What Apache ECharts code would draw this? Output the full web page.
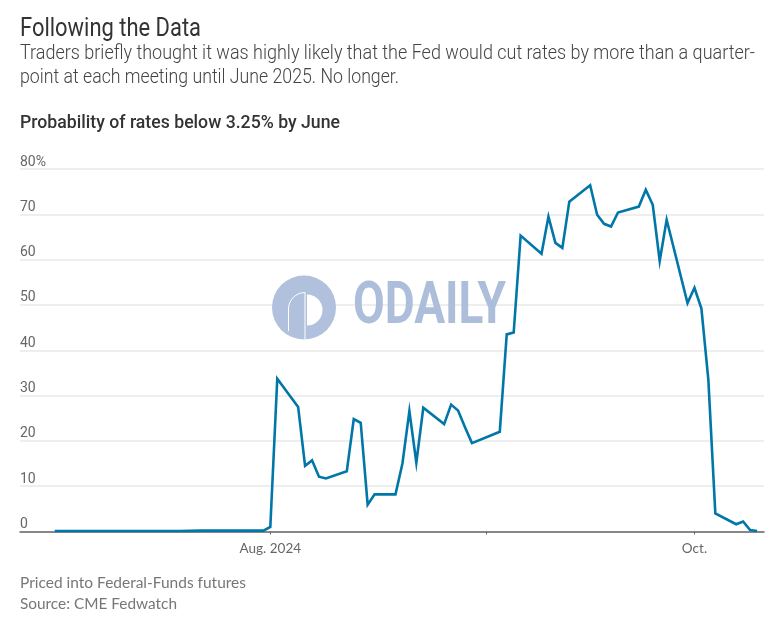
<!DOCTYPE html>
<html><head><meta charset="utf-8">
<style>html,body{margin:0;padding:0;background:#fff}#c{width:778px;height:617px}</style>
<script src="https://cdn.jsdelivr.net/npm/echarts@6/dist/echarts.min.js"></script>
</head><body><div id="c"></div>
<script>
const dates = ["2024-07-01","2024-07-02","2024-07-03","2024-07-05","2024-07-08","2024-07-09","2024-07-10","2024-07-11","2024-07-12","2024-07-15","2024-07-16","2024-07-17","2024-07-18","2024-07-19","2024-07-22","2024-07-23","2024-07-24","2024-07-25","2024-07-26","2024-07-29","2024-07-30","2024-07-31",
"2024-08-01","2024-08-02","2024-08-05","2024-08-06","2024-08-07","2024-08-08","2024-08-09","2024-08-12","2024-08-13","2024-08-14","2024-08-15","2024-08-16","2024-08-19","2024-08-20","2024-08-21","2024-08-22","2024-08-23","2024-08-26","2024-08-27","2024-08-28","2024-08-29","2024-08-30",
"2024-09-03","2024-09-04","2024-09-05","2024-09-06","2024-09-09","2024-09-10","2024-09-11","2024-09-12","2024-09-13","2024-09-16","2024-09-17","2024-09-18","2024-09-19","2024-09-20","2024-09-23","2024-09-24","2024-09-25","2024-09-26","2024-09-27","2024-09-30",
"2024-10-01","2024-10-02","2024-10-03","2024-10-04","2024-10-07","2024-10-08","2024-10-09","2024-10-10"];
const probability = [0.1,0.1,0.1,0.1,0.1,0.1,0.1,0.1,0.1,0.1,0.1,0.1,0.1,0.1,0.2,0.2,0.2,0.2,0.2,0.2,0.2,0.2,
1.0,33.7,27.5,14.5,15.7,12.1,11.7,13.3,24.8,24.0,5.9,8.2,8.2,15.0,26.6,15.2,27.3,23.7,28.0,26.7,23.0,19.5,
22.0,43.5,43.9,65.3,61.3,69.5,63.7,62.6,72.8,76.4,69.9,67.9,67.3,70.4,71.7,75.4,72.1,59.7,68.8,50.4,
53.8,49.2,33.4,4.0,1.6,2.2,0.3,0.1];
const tickDates = ["2024-08-01","2024-09-01","2024-10-01"];
const labelDates = ["2024-08-01","2024-10-01"];
const labelTexts = ["Aug. 2024","Oct."];
const yTicks = [0,10,20,30,40,50,60,70,80];

const ts = s => +echarts.time.parse(s);
const wm = '#adbedb';
const measurer = document.createElement('canvas').getContext('2d');
function fitText(text, font, x, y, targetWidth, fill){
  measurer.font = font;
  return {type:'text',x,y,scaleX:targetWidth/measurer.measureText(text).width,silent:true,z:10,
    style:{text,font,fill,textVerticalAlign:'middle',verticalAlign:'middle'}};
}
const chart = echarts.init(document.getElementById('c'), null, {renderer:'canvas'});
chart.setOption({
  animation:false,
  backgroundColor:'#fff',
  grid:{left:20,right:14,top:169,bottom:85.5,containLabel:false},
  xAxis:{type:'value',min:ts('2024-06-26'),max:ts('2024-10-11'),scale:true,
    axisLine:{show:true,onZero:false,lineStyle:{color:'#666',width:1.5}},
    axisTick:{show:true,length:3,customValues:tickDates.map(ts),lineStyle:{color:'#666',width:1}},
    splitLine:{show:false},minorTick:{show:false},
    axisLabel:{show:true,customValues:labelDates.map(ts),margin:10,fontFamily:'Lato,sans-serif',fontSize:13.5,color:'#666',hideOverlap:false,
      formatter:v=>{const i=labelDates.findIndex(d=>ts(d)===+v);return i>=0?labelTexts[i]:'';}}
  },
  yAxis:{type:'value',min:0,max:80,interval:10,
    axisLine:{show:false},axisTick:{show:false},
    splitLine:{show:true,lineStyle:{color:'#e8e8e8',width:1.5}},
    axisLabel:{inside:true,margin:0,align:'left',verticalAlign:'bottom',padding:[0,0,0,0],fontFamily:'Roboto,sans-serif',fontSize:14,color:'#666',
      formatter:v=>yTicks.includes(v)?(v===80?v+'%':''+v):''}
  },
  series:[{type:'line',data:dates.map((d,i)=>[ts(d),probability[i]]),showSymbol:false,symbol:'none',smooth:false,z:5,
    lineStyle:{color:'#0077a8',width:2.6,join:'miter'}}],
  graphic:[
    fitText('Following the Data','26px Roboto',20,29.5,181,'#333'),
    fitText('Traders briefly thought it was highly likely that the Fed would cut rates by more than a quarter-','300 20px Roboto',20,54,735,'#444'),
    fitText('point at each meeting until June 2025. No longer.','300 20px Roboto',20,78,379,'#444'),
    fitText('Probability of rates below 3.25% by June','500 19px Roboto',20,123,320,'#333'),
    fitText('Priced into Federal-Funds futures','15.5px Lato',20,583,226,'#777'),
    fitText('Source: CME Fedwatch','15.5px Lato',20,604,157,'#777'),
    {type:'circle',shape:{cx:304,cy:307.5,r:32},style:{fill:wm,opacity:.95},z:3,silent:true},
    {type:'sector',shape:{cx:307,cy:310,r0:0,r:15.5,startAngle:-Math.PI/2,endAngle:Math.PI/2},style:{fill:'#fff'},z:3,silent:true},
    {type:'arc',shape:{cx:305,cy:309,r:16.5,startAngle:Math.PI,endAngle:Math.PI*1.5},style:{fill:'none',stroke:'#fff',lineWidth:1},z:3,silent:true},
    {type:'line',shape:{x1:288.5,y1:309,x2:288.5,y2:331},style:{stroke:'#fff',lineWidth:1},z:3,silent:true},
    {type:'line',shape:{x1:305,y1:292.5,x2:305,y2:339.5},style:{stroke:'#fff',lineWidth:1},z:3,silent:true},
    Object.assign(fitText('ODAILY','bold 60px Roboto',353,308,153,wm),{z:3})
  ]
});
</script></body></html>
